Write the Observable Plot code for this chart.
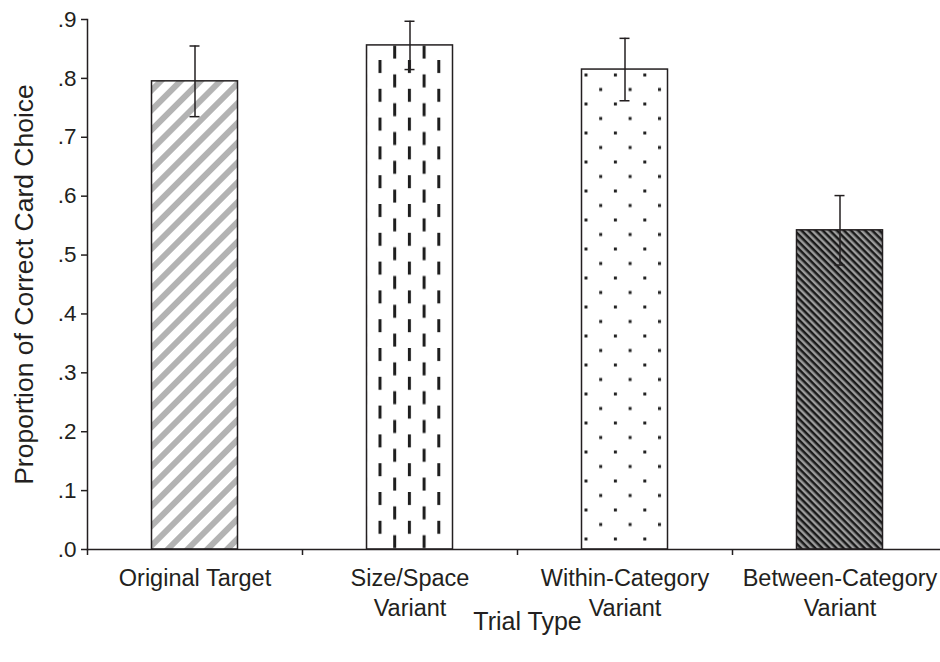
<!DOCTYPE html>
<html>
<head>
<meta charset="utf-8">
<script src="https://cdn.jsdelivr.net/npm/d3@7"></script>
<script src="https://cdn.jsdelivr.net/npm/@observablehq/plot@0.6"></script>
<style>
  html, body { margin: 0; padding: 0; background: #fff; overflow: hidden; }
  #chart { width: 940px; height: 662px; overflow: hidden; }
  #chart svg { max-width: none !important; width: 947px !important; height: 662px !important; }
</style>
</head>
<body>
<div id="chart"></div>
<script>
const categories = ["Original Target", "Size/Space\nVariant", "Within-Category\nVariant", "Between-Category\nVariant"];
const means = [0.795, 0.856, 0.815, 0.542];
const errors = [0.060, 0.041, 0.053, 0.059];
const yTicks = [0, 0.1, 0.2, 0.3, 0.4, 0.5, 0.6, 0.7, 0.8, 0.9];
const yLabel = "Proportion of Correct Card Choice";
const xLabel = "Trial Type";

const data = categories.map((c, i) => ({cat: c, val: means[i], lo: means[i] - errors[i], hi: means[i] + errors[i], i}));
const ink = "#231f20";
const W = 947, ML = 87;
const bandW = (W - ML) / 4;

const bars = data.map(d => Plot.barY([d], {
  x: "cat", y: "val", fill: `url(#pat${d.i})`, stroke: ink, strokeWidth: 1.5,
  insetLeft: 64.5, insetRight: 64.5
}));

const chart = Plot.plot({
  width: W,
  height: 662,
  marginTop: 19,
  marginBottom: 113,
  marginLeft: ML,
  marginRight: 0,
  style: {fontFamily: "Liberation Sans, Arial, sans-serif", fontSize: "22px", color: ink, background: "#fff"},
  x: {domain: categories, padding: 0, label: null},
  y: {domain: [0, 0.9], label: null},
  marks: [
    ...bars,
    Plot.ruleX(data, {x: "cat", y1: "lo", y2: "hi", stroke: ink, strokeWidth: 1.5}),
    Plot.tickY(data, {x: "cat", y: "lo", stroke: ink, strokeWidth: 1.5, insetLeft: bandW / 2 - 5, insetRight: bandW / 2 - 5}),
    Plot.tickY(data, {x: "cat", y: "hi", stroke: ink, strokeWidth: 1.5, insetLeft: bandW / 2 - 5, insetRight: bandW / 2 - 5}),
    Plot.frame({anchor: "left", stroke: ink, strokeWidth: 1.5}),
    Plot.frame({anchor: "bottom", stroke: ink, strokeWidth: 1.5}),
    Plot.axisY({ticks: yTicks, tickFormat: d => d.toFixed(1).replace(/^0/, ""), tickSize: 6, tickPadding: 5, fontSize: 22.5, stroke: ink, strokeWidth: 1.5, label: null}),
    Plot.axisX({tickSize: 6, text: null, dx: -bandW / 2, stroke: ink, strokeWidth: 1.5, label: null}),
    Plot.axisX({tickSize: 0, tickPadding: 16, fontSize: 23.5, lineHeight: 1.25, label: null}),
    Plot.text([yLabel], {text: d => d, frameAnchor: "left", textAnchor: "middle", lineAnchor: "middle", rotate: -90, dx: -63, fontSize: 26.5, fill: ink}),
    Plot.text([xLabel], {text: d => d, frameAnchor: "bottom", textAnchor: "middle", lineAnchor: "middle", dy: 72, dx: 10, fontSize: 25, fill: ink})
  ]
});

const defs = document.createElementNS("http://www.w3.org/2000/svg", "defs");
defs.innerHTML = `
  <pattern id="pat0" patternUnits="userSpaceOnUse" width="14" height="14" patternTransform="rotate(45)">
    <rect width="14" height="14" fill="#fff"/>
    <rect width="6" height="14" fill="#b3b3b3"/>
  </pattern>
  <pattern id="pat1" patternUnits="userSpaceOnUse" x="378.5" y="60" width="29.4" height="28.8">
    <rect width="29.4" height="28.8" fill="#fff"/>
    <rect x="0" y="0" width="3" height="13" fill="#1e1e1e"/>
    <rect x="14.7" y="14.4" width="3" height="13" fill="#1e1e1e"/>
  </pattern>
  <pattern id="pat2" patternUnits="userSpaceOnUse" x="584.5" y="73.5" width="29.4" height="29">
    <rect width="29.4" height="29" fill="#fff"/>
    <rect x="0" y="0" width="3" height="3" fill="#222"/>
    <rect x="14.7" y="14.5" width="3" height="3" fill="#222"/>
  </pattern>
  <pattern id="pat3" patternUnits="userSpaceOnUse" width="5" height="5" patternTransform="rotate(-45)">
    <rect width="5" height="5" fill="#1a1a1a"/>
    <rect width="2.5" height="5" fill="#9c9c9c"/>
  </pattern>`;
chart.insertBefore(defs, chart.firstChild);
document.getElementById("chart").appendChild(chart);
</script>
</body>
</html>
